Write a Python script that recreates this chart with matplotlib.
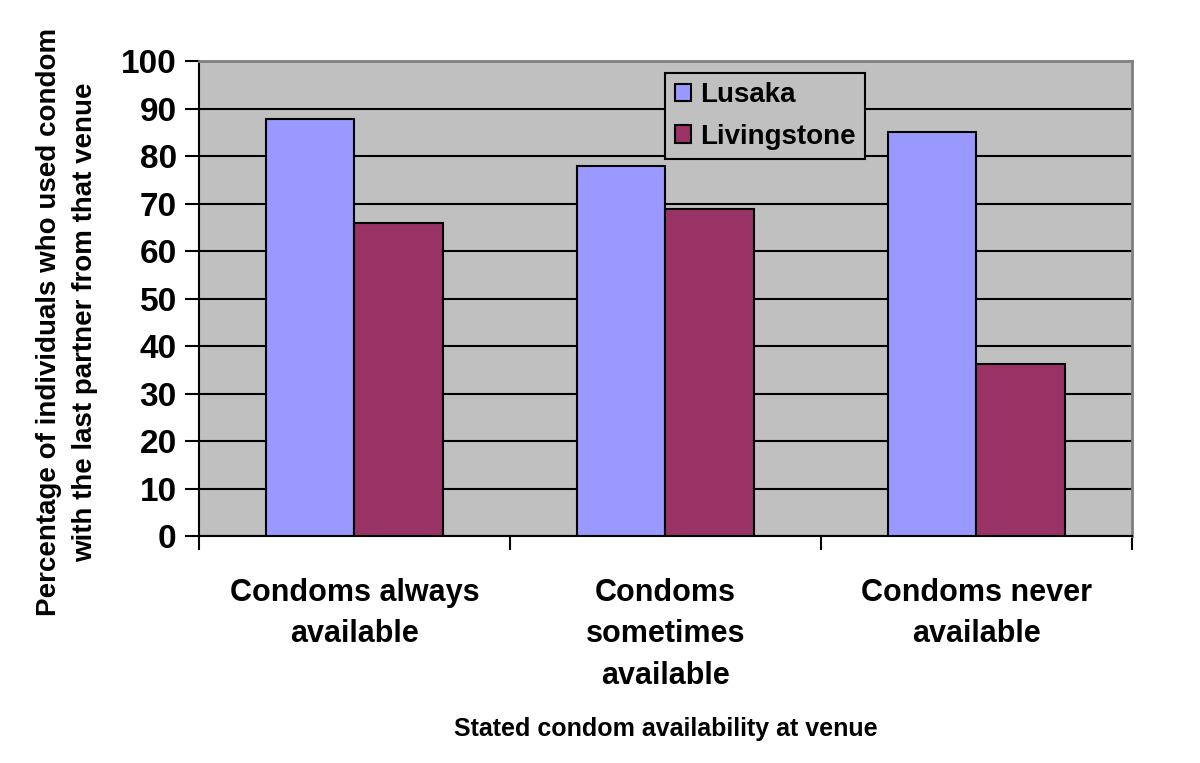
import numpy as np
import matplotlib
matplotlib.use('Agg')
import matplotlib.pyplot as plt

plt.rcParams['font.family'] = ['Liberation Sans', 'DejaVu Sans']
plt.rcParams['font.weight'] = 'bold'

categories = ['Condoms always\navailable', 'Condoms\nsometimes\navailable', 'Condoms never\navailable']
lusaka = [87.7, 77.8, 85.0]
livingstone = [66.0, 68.8, 36.2]
series_names = ['Lusaka', 'Livingstone']
colors = ['#9999FF', '#993366']

fig = plt.figure(figsize=(12, 7.63), dpi=100)
ax = fig.add_axes([0.1658, 0.2975, 0.7775, 0.6225])
ax.set_facecolor('#C0C0C0')

x = np.arange(len(categories))
w = 0.286
ax.bar(x - w / 2, lusaka, w, color=colors[0], edgecolor='black', linewidth=1.5, label=series_names[0], zorder=3)
ax.bar(x + w / 2, livingstone, w, color=colors[1], edgecolor='black', linewidth=1.5, label=series_names[1], zorder=3)

ax.set_ylim(0, 100)
ax.set_xlim(-0.5, len(categories) - 0.5)
ax.set_yticks(np.arange(0, 101, 10))
ax.yaxis.grid(True, color='black', linewidth=1.5, zorder=1)
ax.set_axisbelow(True)

ax.set_xticks(x)
ax.set_xticklabels(categories, fontsize=22, fontweight='bold', linespacing=1.5)
ax.tick_params(axis='x', length=0, pad=30)
ax.set_xticks(np.arange(-0.5, len(categories)), minor=True)
ax.tick_params(axis='x', which='minor', length=10, width=1.5, direction='out')
ax.tick_params(axis='y', labelsize=24, length=10, width=1.5, direction='out', pad=6)
for lbl in ax.get_yticklabels():
    lbl.set_fontweight('bold')

for side in ['top', 'right']:
    ax.spines[side].set_color('#808080')
    ax.spines[side].set_linewidth(2)
for side in ['left', 'bottom']:
    ax.spines[side].set_color('black')
    ax.spines[side].set_linewidth(1.5)

ax.set_xlabel('Stated condom availability at venue', fontsize=18, fontweight='bold', labelpad=19)
ax.set_ylabel('Percentage of individuals who used condom\nwith the last partner from that venue',
              fontsize=20, fontweight='bold', linespacing=1.5)
ax.yaxis.set_label_coords(-0.108, 0.45)

leg = ax.legend(loc='upper left', bbox_to_anchor=(0.4995, 0.9755), fontsize=20, frameon=True,
                fancybox=False, facecolor='#C0C0C0', edgecolor='black', framealpha=1,
                handlelength=0.6, handleheight=0.6, handletextpad=0.3, borderpad=0.35,
                borderaxespad=0, labelspacing=0.55)
leg.get_frame().set_linewidth(1.5)
for t in leg.get_texts():
    t.set_fontweight('bold')

fig.savefig('out.png', dpi=100)
